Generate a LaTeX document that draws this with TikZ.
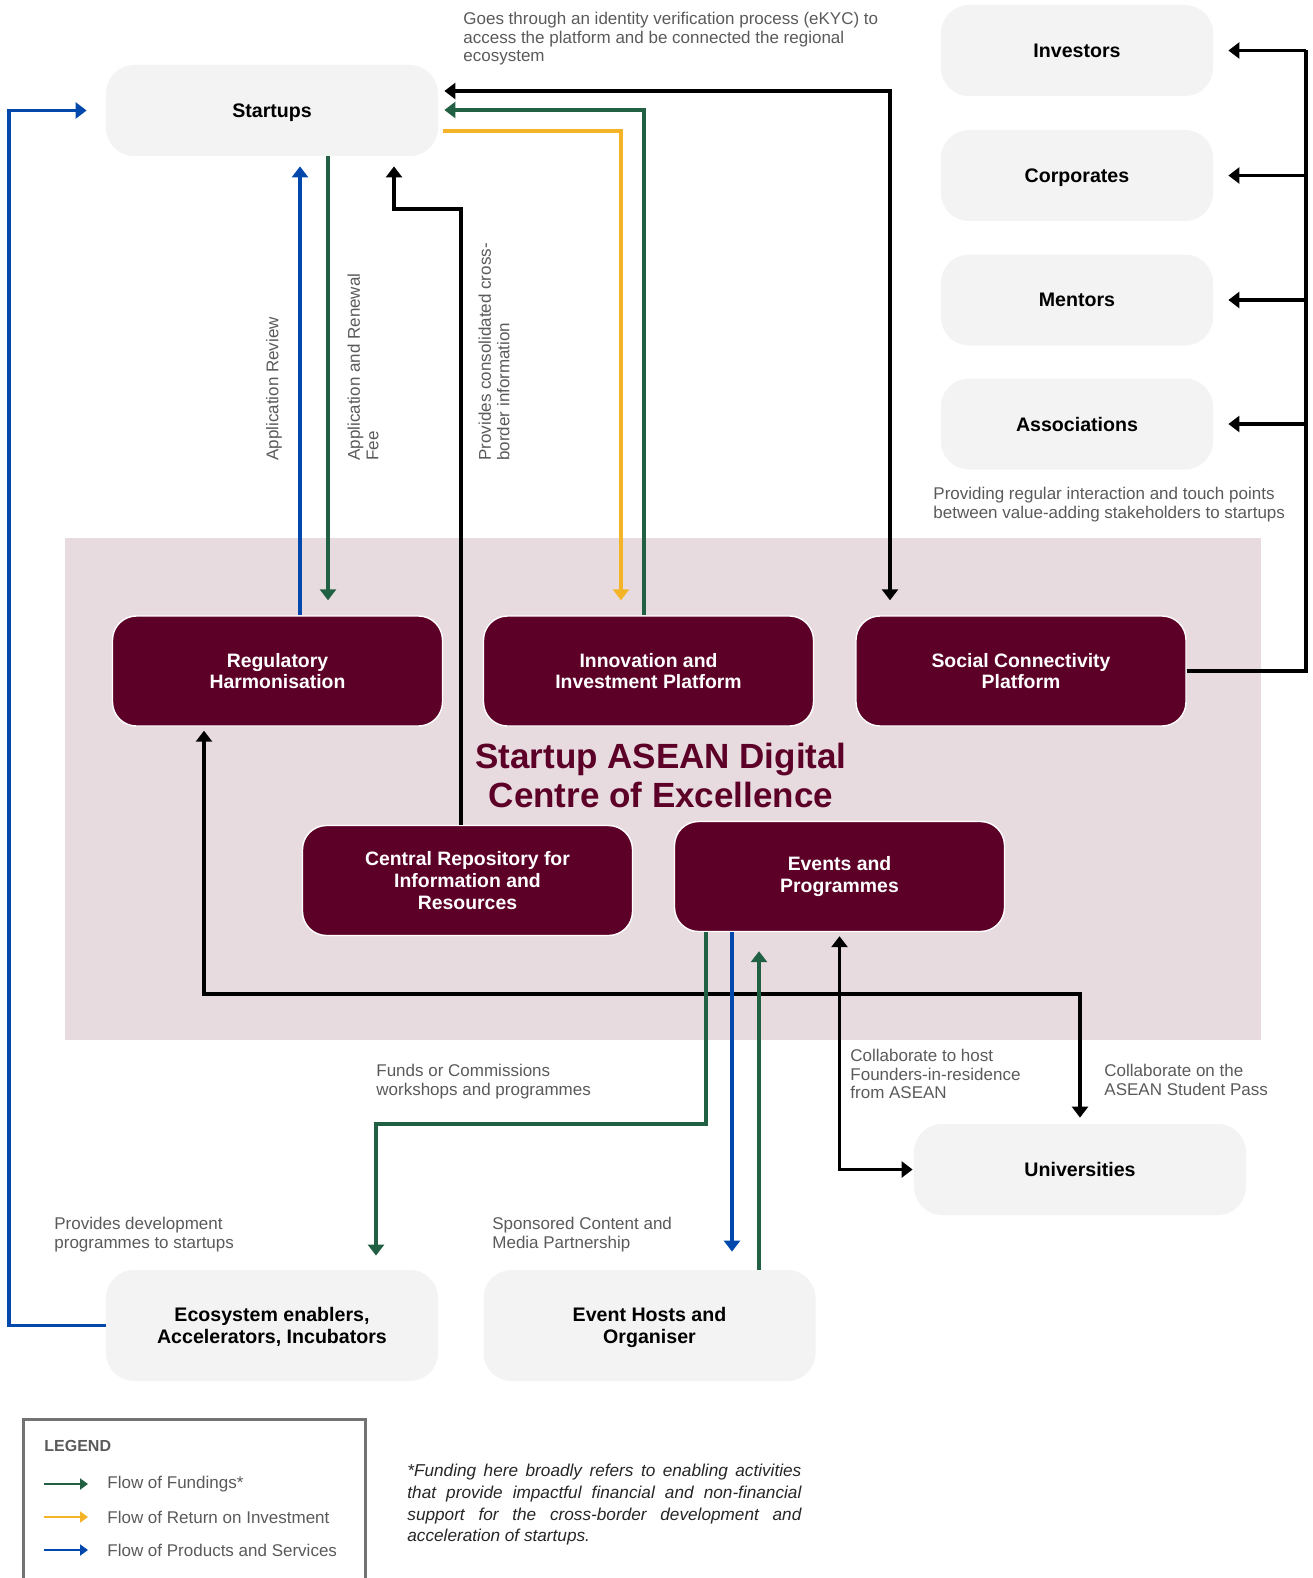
\documentclass[tikz,border=0pt]{standalone}
\usepackage{fontspec}
\setmainfont{Liberation Sans}
\usetikzlibrary{arrows.meta}
\definecolor{maroon}{RGB}{93,0,40}
\definecolor{pinkbg}{RGB}{231,219,223}
\definecolor{boxgrey}{RGB}{243,243,243}
\definecolor{fundgreen}{RGB}{33,96,66}
\definecolor{roiyellow}{RGB}{245,180,40}
\definecolor{prodblue}{RGB}{0,72,171}
\definecolor{notegrey}{RGB}{90,90,90}
\tikzset{
    >={Triangle[length=5.5pt,width=8pt]},
    stake/.style={
           rectangle, rounded corners=14pt,
           fill=boxgrey,
           minimum width=166pt, minimum height=45.5pt,
           inner sep=0pt, align=center, text depth=0pt,
           font=\bfseries\fontsize{9.8}{10.8}\selectfont},
    narrow/.style={minimum width=136pt},
    tall/.style={minimum height=55.5pt},
    pillar/.style={
           rectangle, rounded corners=12pt,
           fill=maroon, draw=white, line width=0.7pt,
           text=white,
           minimum width=165pt, minimum height=55pt,
           inner sep=0pt, align=center,
           font=\bfseries\fontsize{9.7}{10.8}\selectfont},
    coetitle/.style={
           inner sep=0pt, align=center, text=maroon,
           font=\bfseries\fontsize{17.5}{19.5}\selectfont},
    note/.style={
           anchor=north west, inner sep=0pt, align=left,
           text=notegrey,
           font=\fontsize{8.5}{9.3}\selectfont},
    conn/.style={line width=1.6pt},
    link/.style={conn, black},
    fund/.style={conn, fundgreen},
    roi/.style={conn, roiyellow},
    prod/.style={conn, prodblue},
    keytip/.style={line width=1.3pt, >={Triangle[length=4pt,width=5.5pt]}}
}

\begin{document}
\begin{tikzpicture}[x=0.5pt,y=-0.5pt]
          \useasboundingbox (0,0) rectangle (1312,1578);
          \fill[pinkbg] (65,538) rectangle (1261,1040);
          % stakeholders
          \node[stake](startups) at (272,110.5) {Startups};
          \node[stake,narrow](invest) at (1077,50.5) {Investors};
          \node[stake,narrow](corp) at (1077,175.5) {Corporates};
          \node[stake,narrow](ment) at (1077,300) {Mentors};
          \node[stake,narrow](assoc) at (1077,424) {Associations};
          \node[stake](univ) at (1080,1169.5) {Universities};
          \node[stake,tall](eco) at (272,1325.5) {Ecosystem enablers,\\Accelerators, Incubators};
          \node[stake,tall](hosts) at (649.5,1325.5) {Event Hosts and\\Organiser};
          % centre of excellence
          \node[pillar](reg) at (277.5,671) {Regulatory\\Harmonisation};
          \node[pillar](innov) at (648.5,671) {Innovation and\\Investment Platform};
          \node[pillar](social) at (1021,671) {Social Connectivity\\Platform};
          \node[pillar](repo) at (467.5,880.5) {Central Repository for\\Information and\\Resources};
          \node[pillar](events) at (839.5,876.5) {Events and\\Programmes};
          \node[coetitle](coe) at (661,775) {Startup ASEAN Digital\\Centre of Excellence};
          % lanes
          \coordinate (ar) at (300,0);
          \coordinate (af) at (328,0);
          \coordinate (cr) at (461,209);
          \coordinate (cs) at (394,209);
          \coordinate (sc) at (890,91);
          \coordinate (ic) at (644,110);
          \coordinate (yc) at (621,131);
          \coordinate (eb) at (9,110.5);
          \coordinate (rb) at (1306,0);
          \coordinate (lb) at (204,994);
          \coordinate (gc) at (706,1124);
          \coordinate (gd) at (376,1124);
          \coordinate (bc) at (732,0);
          \coordinate (hc) at (759,0);
          % connectors
          \draw[link,<->,shorten <=2pt,shorten >=3pt] (reg.south -| lb) |- (univ.north |- lb) -- (univ.north);
          \draw[link,<->,shorten <=2pt,shorten >=0.5pt] (events.south) |- (univ.west);
          \draw[link,->,shorten >=5pt] (repo.north -| cr) |- (cs) -- (cs |- startups.south);
          \draw[link,<->,shorten <=3pt,shorten >=7.5pt] (startups.east |- sc) -- (sc) -- (sc |- social.north);
          \draw[link] (social.east) -| (rb |- invest.east);
          \foreach \s in {invest,corp,ment,assoc}
              \draw[link,->,shorten >=7.5pt] (rb |- \s.east) -- (\s.east);
          \draw[prod,->,shorten >=9.5pt] (eco.west) -| (eb) -- (startups.west);
          \draw[prod,->,shorten >=5pt] (reg.north -| ar) -- (startups.south -| ar);
          \draw[fund,->,shorten >=7.5pt] (startups.south -| af) -- (reg.north -| af);
          \draw[fund,->,shorten >=3pt] (innov.north -| ic) |- (startups.east |- ic);
          \draw[roi,->,shorten <=2.5pt,shorten >=7.5pt] (startups.east |- yc) -| (innov.north -| yc);
          \draw[fund,->,shorten >=7pt] (events.south -| gc) |- (gd) -- (gd |- eco.north);
          \draw[prod,->,shorten >=9pt] (events.south -| bc) -- (hosts.north -| bc);
          \draw[fund,->,shorten >=9.5pt] (hosts.north -| hc) -- (events.south -| hc);
          % labels
          \node[note](lgoes) at (463,12) {Goes through an identity verification process (eKYC) to\\access the platform and be connected the regional\\ecosystem};
          \node[note,rotate=90,anchor=west](lrev) at (274,461) {Application Review};
          \node[note,rotate=90,anchor=west](lfee) at (363,461) {Application and Renewal\\Fee};
          \node[note,rotate=90,anchor=west](lrepo) at (494,461) {Provides consolidated cross-\\border information};
          \node[note](lprov) at (933,487) {Providing regular interaction and touch points\\between value-adding stakeholders to startups};
          \node[note](lfunds) at (376,1064) {Funds or Commissions\\workshops and programmes};
          \node[note](lhost) at (850,1049) {Collaborate to host\\Founders-in-residence\\from ASEAN};
          \node[note](lpass) at (1104,1064) {Collaborate on the\\ASEAN Student Pass};
          \node[note](ldev) at (54,1217) {Provides development\\programmes to startups};
          \node[note](lspon) at (492,1217) {Sponsored Content and\\Media Partnership};
          % legend
          \draw[notegrey!85, line width=1.5pt] (23,1600) |- (365,1419) -- (365,1600);
          \node[note,font=\bfseries\fontsize{8}{9}\selectfont](leg) at (44,1440) {LEGEND};
          \node[note,anchor=west](lf) at (107,1484) {Flow of Fundings*};
          \node[note,anchor=west](lr) at (107,1517) {Flow of Return on Investment};
          \node[note,anchor=west](lp) at (107,1550) {Flow of Products and Services};
          \draw[fund,keytip,->] (lf.west) ++(-63,0) -- ++(44,0);
          \draw[roi,keytip,->] (lr.west) ++(-63,0) -- ++(44,0);
          \draw[prod,keytip,->] (lp.west) ++(-63,0) -- ++(44,0);
          \node[note,text=black!85,text width=197pt,align=justify,
                font=\itshape\fontsize{8.6}{10.8}\selectfont](fnote) at (407,1464)
                {\hyphenpenalty=10000 *Funding here broadly refers to enabling activities\linebreak
                 that provide impactful financial and non-financial\linebreak
                 support for the cross-border development and\linebreak
                 acceleration of startups.};
\end{tikzpicture}
\end{document}
